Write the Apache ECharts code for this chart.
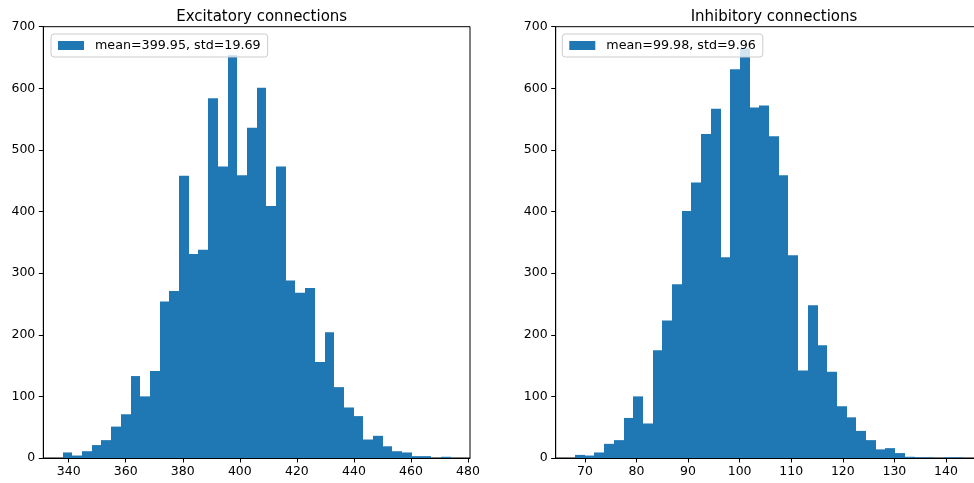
<!DOCTYPE html>
<html>
<head>
<meta charset="utf-8">
<script src="https://cdn.jsdelivr.net/npm/echarts@6/dist/echarts.min.js"></script>
<style>
html,body{margin:0;padding:0;background:#fff;}
#chart{width:974px;height:483px;}
</style>
</head>
<body>
<div id="chart"></div>
<script>
// ---- data ----
const excTitle = 'Excitatory connections';
const inhTitle = 'Inhibitory connections';
const excLabel = 'mean=399.95, std=19.69';
const inhLabel = 'mean=99.98, std=9.96';
const excBinStart = 337.9;
const excBinWidth = 3.4;
const excCounts = [9,4,11,21,29,51,71,133,100,141,
                   254,271,458,331,338,584,473,654,459,536,
                   601,409,473,288,268,276,156,204,115,82,
                   68,30,36,19,11,9,3,3,0,2];
const inhBinStart = 68.1;
const inhBinWidth = 1.88;
const inhCounts = [5,4,9,23,29,65,100,56,175,223,
                   282,401,447,526,567,326,631,665,569,572,
                   522,459,329,142,248,183,140,84,66,44,
                   29,14,16,8,2,1,1,0,1,1];
const excTicks = [340,360,380,400,420,440,460,480];
const inhTicks = [70,80,90,100,110,120,130,140];

// ---- chart ----
const color = '#1f77b4';
const font = 'DejaVu Sans';
function bins(start, width, counts){
  return counts.map((c,i)=>[start+i*width, start+(i+1)*width, c]);
}
function renderItem(params, api){
  const p0 = api.coord([api.value(0), api.value(2)]);
  const p1 = api.coord([api.value(1), 0]);
  const x0 = Math.round(p0[0]), x1 = Math.round(p1[0]);
  return {type:'rect', shape:{x:x0, y:p0[1], width:x1-x0, height:p1[1]-p0[1]},
          style:{fill:color}};
}
function xAxis(idx, min, max, ticks){
  return {type:'value', gridIndex:idx, min:min, max:max,
    axisLine:{show:true, lineStyle:{color:'#000', width:1}},
    axisTick:{show:true, length:4.5, lineStyle:{color:'#000'}, customValues:ticks},
    axisLabel:{color:'#000', fontFamily:font, fontSize:12.5, margin:7, customValues:ticks},
    splitLine:{show:false}};
}
function yAxis(idx){
  return {type:'value', gridIndex:idx, min:0, max:700, interval:100,
    axisLine:{show:true, lineStyle:{color:'#000', width:1}},
    axisTick:{show:true, length:4.5, lineStyle:{color:'#000'}},
    axisLabel:{color:'#000', fontFamily:font, fontSize:12.5, margin:8},
    splitLine:{show:false}};
}
function legend(left, name){
  return {left:left, top:34, orient:'vertical', padding:[4,7],
    backgroundColor:'rgba(255,255,255,0.8)', borderColor:'#cccccc', borderWidth:1, borderRadius:3,
    itemWidth:26, itemHeight:9,
    textStyle:{fontFamily:font, fontSize:12.7, color:'#000', padding:[0,0,0,6], lineHeight:15},
    data:[{name:name, icon:'rect'}]};
}
const chart = echarts.init(document.getElementById('chart'), null, {renderer:'canvas'});
chart.setOption({
  animation:false,
  backgroundColor:'#fff',
  title:[
    {text:excTitle, left:256.7, top:5, textAlign:'center', textStyle:{fontFamily:font, fontSize:15, fontWeight:'normal', color:'#000'}},
    {text:inhTitle, left:769, top:5, textAlign:'center', textStyle:{fontFamily:font, fontSize:15, fontWeight:'normal', color:'#000'}}
  ],
  grid:[
    {left:43.3, top:26.7, width:426.7, height:431.3, show:true, borderColor:'#000', borderWidth:1, backgroundColor:'transparent', outerBoundsMode:'none', containLabel:false},
    {left:555.7, top:26.7, width:426.7, height:431.3, show:true, borderColor:'#000', borderWidth:1, backgroundColor:'transparent', outerBoundsMode:'none', containLabel:false}
  ],
  xAxis:[xAxis(0, 331.1, 480.7, excTicks), xAxis(1, 64.34, 147.06, inhTicks)],
  yAxis:[yAxis(0), yAxis(1)],
  legend:[legend(51, excLabel), legend(562.3, inhLabel)],
  series:[
    {type:'custom', name:excLabel, xAxisIndex:0, yAxisIndex:0, renderItem:renderItem,
     itemStyle:{color:color}, encode:{x:[0,1], y:2}, data:bins(excBinStart, excBinWidth, excCounts)},
    {type:'custom', name:inhLabel, xAxisIndex:1, yAxisIndex:1, renderItem:renderItem,
     itemStyle:{color:color}, encode:{x:[0,1], y:2}, data:bins(inhBinStart, inhBinWidth, inhCounts)}
  ]
});
</script>
</body>
</html>
